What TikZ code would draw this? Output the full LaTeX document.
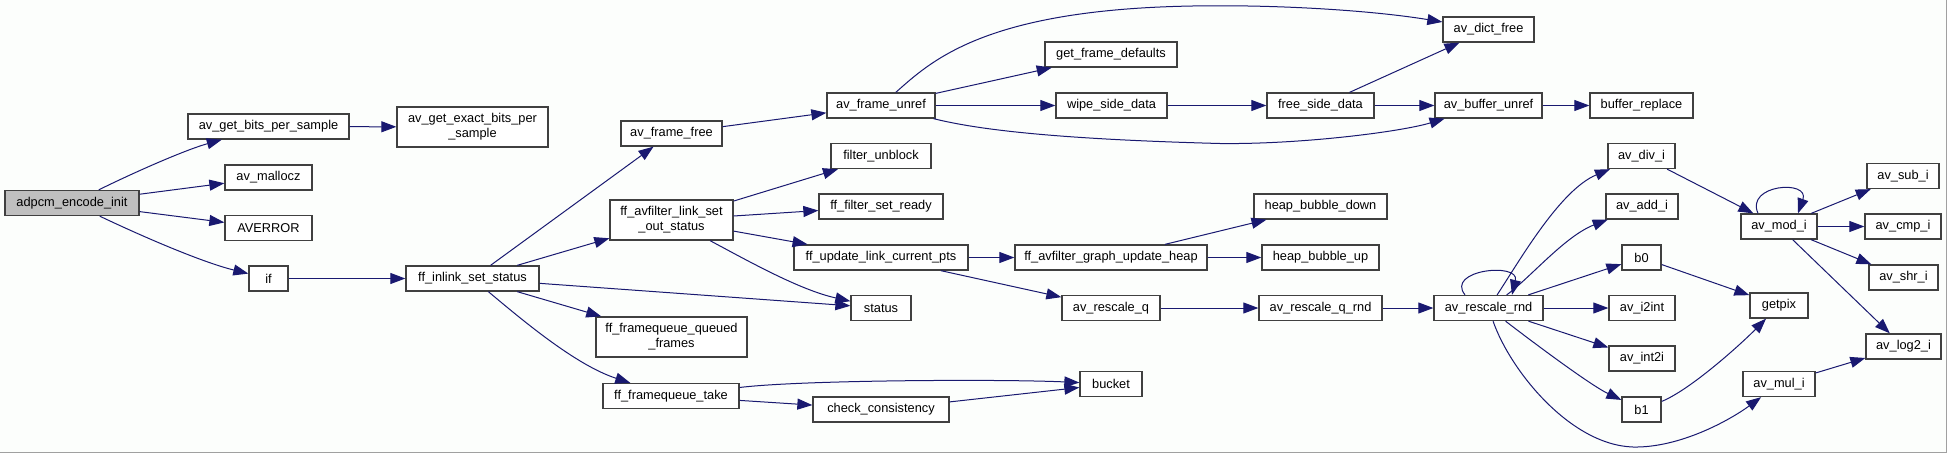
\documentclass[tikz,border=0pt]{standalone}
\usepackage{fontspec}
\setmainfont{Liberation Sans}
\usetikzlibrary{arrows.meta}
\definecolor{edgeblue}{RGB}{25,25,112}
\definecolor{boxline}{RGB}{64,64,64}
\definecolor{rootfill}{RGB}{191,191,191}
\definecolor{pagebg}{RGB}{252,254,252}
\definecolor{frameline}{RGB}{160,160,160}
\tikzset{
  fn/.style={draw=boxline,fill=white,line width=1.3pt,inner sep=0pt,
    minimum height=25pt,align=center,font=\fontsize{12.8}{15}\selectfont},
  fnroot/.style={fn,fill=rootfill},          % the documented function
  fntwo/.style={fn,minimum height=40pt},     % name split on two lines
  call/.style={-{Triangle[length=15pt,width=11pt]},draw=edgeblue,line width=1pt},
}

\begin{document}
\begin{tikzpicture}[x=1pt,y=-1pt]
  \fill[pagebg] (0,0) rectangle (1947,453);
  \useasboundingbox (0,0) rectangle (1947,453);
  \draw[frameline,line width=1pt] (0,452.5) -- (1946.5,452.5) -- (1946.5,0);
  % column 1-3
  \node[fnroot,minimum width=134pt] (adpcm) at (72,203) {adpcm\_encode\_init};
  \node[fn,minimum width=161pt] (getbits) at (268.5,126.5) {av\_get\_bits\_per\_sample};
  \node[fn,minimum width=87pt] (mallocz) at (268.5,177.5) {av\_mallocz};
  \node[fn,minimum width=87pt] (averror) at (268.5,228) {AVERROR};
  \node[fn,minimum width=39pt] (if) at (268.5,278.5) {if};
  \node[fntwo,minimum width=151pt] (exactbits) at (472.5,127) {av\_get\_exact\_bits\_per\\\_sample};
  \node[fn,minimum width=133pt] (inlink) at (472.5,278.5) {ff\_inlink\_set\_status};
  % column 4-5
  \node[fn,minimum width=101pt] (framefree) at (671.5,133.5) {av\_frame\_free};
  \node[fntwo,minimum width=123pt] (setout) at (671.5,220) {ff\_avfilter\_link\_set\\\_out\_status};
  \node[fntwo,minimum width=151pt] (queued) at (671.5,337) {ff\_framequeue\_queued\\\_frames};
  \node[fn,minimum width=136pt] (fqtake) at (671,396) {ff\_framequeue\_take};
  \node[fn,minimum width=108pt] (frameunref) at (881,105.5) {av\_frame\_unref};
  \node[fn,minimum width=100pt] (filterunblock) at (881,156) {filter\_unblock};
  \node[fn,minimum width=124pt] (setready) at (881,206.5) {ff\_filter\_set\_ready};
  \node[fn,minimum width=174pt] (updatepts) at (881,257.5) {ff\_update\_link\_current\_pts};
  \node[fn,minimum width=60pt] (status) at (881,308) {status};
  \node[fn,minimum width=136pt] (checkcons) at (881,409.5) {check\_consistency};
  % column 6-8
  \node[fn,minimum width=132pt] (getdefaults) at (1111,54.5) {get\_frame\_defaults};
  \node[fn,minimum width=111pt] (wipe) at (1111.5,105.5) {wipe\_side\_data};
  \node[fn,minimum width=192pt] (updateheap) at (1111,257.5) {ff\_avfilter\_graph\_update\_heap};
  \node[fn,minimum width=98pt] (rescaleq) at (1111,308) {av\_rescale\_q};
  \node[fn,minimum width=62pt] (bucket) at (1111,384) {bucket};
  \node[fn,minimum width=107pt] (freeside) at (1320.5,105.5) {free\_side\_data};
  \node[fn,minimum width=133pt] (bubbledown) at (1320.5,206.5) {heap\_bubble\_down};
  \node[fn,minimum width=117pt] (bubbleup) at (1320.5,257.5) {heap\_bubble\_up};
  \node[fn,minimum width=123pt] (rescaleqrnd) at (1320.5,308) {av\_rescale\_q\_rnd};
  \node[fn,minimum width=91pt] (dictfree) at (1488.5,29.5) {av\_dict\_free};
  \node[fn,minimum width=107pt] (bufunref) at (1488.5,105.5) {av\_buffer\_unref};
  \node[fn,minimum width=109pt] (rescalernd) at (1488.5,308) {av\_rescale\_rnd};
  % column 9-11
  \node[fn,minimum width=103pt] (bufreplace) at (1641.5,105.5) {buffer\_replace};
  \node[fn,minimum width=67pt] (divi) at (1641.5,156) {av\_div\_i};
  \node[fn,minimum width=72pt] (addi) at (1642,206.5) {av\_add\_i};
  \node[fn,minimum width=39pt] (b0) at (1641.5,257.5) {b0};
  \node[fn,minimum width=66pt] (i2int) at (1642,308) {av\_i2int};
  \node[fn,minimum width=66pt] (int2i) at (1642,358.5) {av\_int2i};
  \node[fn,minimum width=39pt] (b1) at (1641.5,409.5) {b1};
  \node[fn,minimum width=76pt] (modi) at (1779,226.5) {av\_mod\_i};
  \node[fn,minimum width=58pt] (getpix) at (1779,305.5) {getpix};
  \node[fn,minimum width=72pt] (muli) at (1779,384) {av\_mul\_i};
  \node[fn,minimum width=72pt] (subi) at (1903,176) {av\_sub\_i};
  \node[fn,minimum width=76pt] (cmpi) at (1903,226.5) {av\_cmp\_i};
  \node[fn,minimum width=69pt] (shri) at (1903.5,277.5) {av\_shr\_i};
  \node[fn,minimum width=75pt] (log2i) at (1903.5,346.5) {av\_log2\_i};

  % calls of adpcm_encode_init
  \draw[call] (adpcm) .. controls (135,172) and (185,150) .. (getbits);
  \draw[call] (adpcm) -- (mallocz);
  \draw[call] (adpcm) -- (averror);
  \draw[call] (adpcm) .. controls (150,240) and (205,263) .. (if);
  \draw[call] (getbits) -- (exactbits);
  \draw[call] (if) -- (inlink);
  % ff_inlink_set_status
  \draw[call] (inlink) -- (framefree);
  \draw[call] (inlink) -- (setout);
  \draw[call] (inlink) -- (status);
  \draw[call] (inlink) -- (queued);
  \draw[call] (inlink) .. controls (520,318) and (575,365) .. (fqtake);
  % frame freeing
  \draw[call] (framefree) -- (frameunref);
  \draw[call] (frameunref) .. controls (930,62) and (980,15) .. (1160,7)
    .. controls (1250,3) and (1363,9) .. (dictfree);
  \draw[call] (frameunref) -- (getdefaults);
  \draw[call] (frameunref) -- (wipe);
  \draw[call] (frameunref) .. controls (975,129) and (1050,139) .. (1220,143.5)
    .. controls (1300,144.5) and (1400,132) .. (bufunref);
  \draw[call] (wipe) -- (freeside);
  \draw[call] (freeside) -- (dictfree);
  \draw[call] (freeside) -- (bufunref);
  \draw[call] (bufunref) -- (bufreplace);
  % ff_avfilter_link_set_out_status
  \draw[call] (setout) -- (filterunblock);
  \draw[call] (setout) -- (setready);
  \draw[call] (setout) -- (updatepts);
  \draw[call] (setout) .. controls (750,262) and (800,290) .. (status);
  \draw[call] (updatepts) -- (updateheap);
  \draw[call] (updatepts) -- (rescaleq);
  \draw[call] (updateheap) -- (bubbledown);
  \draw[call] (updateheap) -- (bubbleup);
  \draw[call] (rescaleq) -- (rescaleqrnd);
  \draw[call] (rescaleqrnd) -- (rescalernd);
  % av_rescale_rnd
  \draw[call] ([xshift=-23.5pt]rescalernd.north) .. controls +(-20,-25) and +(8,-33)
    .. ([xshift=23.5pt]rescalernd.north);
  \draw[call] (rescalernd) .. controls (1520,260) and (1560,190) .. (divi);
  \draw[call] (rescalernd) .. controls (1530,278) and (1565,236) .. (addi);
  \draw[call] (rescalernd) -- (b0);
  \draw[call] (rescalernd) -- (i2int);
  \draw[call] (rescalernd) -- (int2i);
  \draw[call] (rescalernd) .. controls (1530,340) and (1590,385) .. (b1);
  \draw[call] (rescalernd) .. controls (1510,370) and (1570,445) .. (1633,447)
    .. controls (1680,448) and (1730,420) .. (muli);
  % av_mod_i and the rest
  \draw[call] (divi) -- (modi);
  \draw[call] ([xshift=-21pt]modi.north) .. controls +(-13,-29) and +(12,-34)
    .. ([xshift=19pt]modi.north);
  \draw[call] (modi) -- (subi);
  \draw[call] (modi) -- (cmpi);
  \draw[call] (modi) -- (shri);
  \draw[call] (modi) -- (log2i);
  \draw[call] (b0) -- (getpix);
  \draw[call] (b1) .. controls (1690,390) and (1740,345) .. (getpix);
  \draw[call] (muli) -- (log2i);
  % frame queue
  \draw[call] (fqtake) .. controls (800,380) and (1000,379) .. (bucket);
  \draw[call] (fqtake) -- (checkcons);
  \draw[call] (checkcons) -- (bucket);
\end{tikzpicture}
\end{document}
